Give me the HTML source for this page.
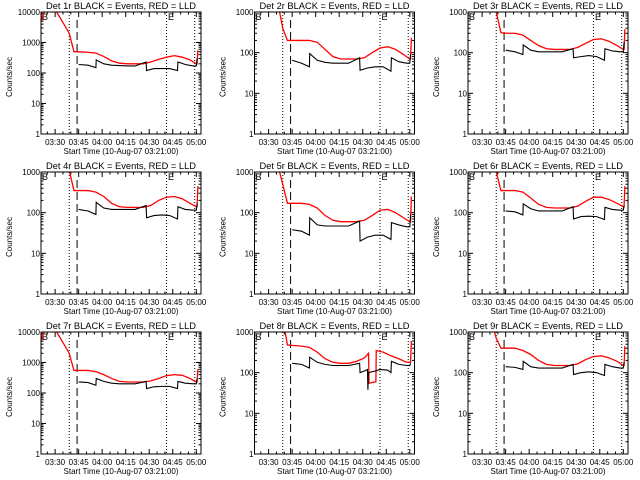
<!DOCTYPE html>
<html><head><meta charset="utf-8"><style>
html,body{margin:0;padding:0;background:#fff;}
svg{display:block;font-family:"Liberation Sans",sans-serif;}
</style></head><body>
<svg id="chart" width="640" height="480" viewBox="0 0 640 480" xmlns="http://www.w3.org/2000/svg"></svg>
<script>
const detLabels = ["1r","2r","3r","4r","5r","6r","7r","8r","9r"];
const yTopExp = [4,3,3,3,3,3,4,3,3];
const tickTimes = [9,24,39,54,69,84,99];
const tickLabels = ["03:30","03:45","04:00","04:15","04:30","04:45","05:00"];
const markerTimes = [18,23,80,98];
const redT = [0,2.5,5,10,14,18,21,23,30,35,40,45,50,55,60,65,70,75,80,85,90,95,99,99.5,100];
const blkT = [24,30,35,35.2,40,45,50,55,60,67,67.3,72,77,82,87,87.3,92,97,99,99.5];
const redT8 = [15,19.5,21,30,35,40,45,50,55,60,65,70,72.7,73,77.4,77.6,82,87,92,97,99,99.5,100];
const blkT8 = [24,30,35,35.2,40,45,50,60,67,67.3,70,72,72.3,72.6,77,80,85,87,87.3,92,97,99,99.5];
const red1 = [4700,12000,15000,10000,4500,2000,500,500,480,450,350,250,210,200,200,200,230,280,330,370,330,270,200,200,550];
const red2 = [5000,20000,20000,8000,2500,400,200,200,200,200,180,120,80,70,70,70,75,100,130,140,120,90,70,70,230];
const red3 = [5000,20000,20000,8000,3000,1000,310,300,300,270,200,150,125,120,120,120,135,170,210,220,190,150,120,120,380];
const red4 = [5000,20000,20000,8000,3000,1100,350,350,350,320,250,170,140,135,135,135,150,200,240,250,220,170,140,140,450];
const red5 = [5000,20000,20000,8000,2000,500,170,170,170,160,130,85,65,60,60,60,65,85,115,120,100,75,60,60,250];
const red6 = [5000,20000,20000,8000,3000,1000,350,350,350,320,230,160,135,130,130,130,145,190,240,240,210,170,140,140,450];
const red7 = [5000,12000,15000,10000,4500,2000,550,550,550,500,400,300,240,230,230,230,250,300,370,400,380,300,230,230,600];
const red8 = [3000,1000,480,450,420,320,220,180,170,170,190,230,300,55,60,350,320,260,220,180,180,180,600];
const red9 = [5000,20000,20000,8000,2500,700,400,400,400,350,280,200,160,150,150,150,165,210,250,260,230,190,150,150,450];
const blk1 = [190,180,150,270,200,180,175,170,170,230,120,140,140,140,120,230,190,170,170,300];
const blk2 = [65,55,45,95,65,58,55,55,55,75,37,42,45,45,35,75,60,55,55,90];
const blk3 = [115,105,90,155,115,105,105,105,105,125,75,80,85,80,65,125,110,105,105,180];
const blk4 = [120,110,90,180,130,120,120,120,120,150,75,85,88,85,70,140,120,115,115,170];
const blk5 = [38,35,28,75,50,47,47,47,47,62,20,25,28,28,22,57,50,45,45,90];
const blk6 = [110,105,88,165,125,110,110,110,110,140,70,80,82,80,68,135,120,115,115,150];
const blk7 = [230,220,180,300,240,210,200,200,200,240,140,160,165,165,140,240,210,200,200,300];
const blk8 = [170,160,130,240,180,160,150,150,170,100,110,120,38,100,110,120,115,100,190,160,150,150,170];
const blk9 = [140,135,120,190,140,130,130,130,130,160,90,100,105,100,85,160,140,130,130,180];
const redVals = [red1,red2,red3,red4,red5,red6,red7,red8,red9];
const blkVals = [blk1,blk2,blk3,blk4,blk5,blk6,blk7,blk8,blk9];

const NS = "http://www.w3.org/2000/svg";
const svg = document.getElementById("chart");
function mk(tag, attrs, parent){const e=document.createElementNS(NS,tag);for(const k in attrs)e.setAttribute(k,attrs[k]);(parent||svg).appendChild(e);return e;}
const colX=[41,254.5,468], rowY=[12,172,332], W=160, H=122, TMAX=102;

for(let p=0;p<9;p++){
  const x0=colX[p%3], y0=rowY[Math.floor(p/3)], top=yTopExp[p];
  const xs=t=>x0+t/TMAX*W;
  const ys=v=>y0+H-(Math.log10(Math.max(v,1e-3))/top)*H;
  const g=mk("g",{});
  
  
  const cp=mk("clipPath",{id:"c"+p},g); mk("rect",{x:x0,y:y0,width:W,height:H},cp);
  const title=mk("text",{x:x0+W/2,y:y0-3,"text-anchor":"middle","font-size":"9.5",textLength:"150",lengthAdjust:"spacingAndGlyphs"},g);
  title.textContent="Det "+detLabels[p]+" BLACK = Events, RED = LLD";
  
  
  // y ticks
  for(let e=0;e<=top;e++){
    const y=ys(Math.pow(10,e));
    mk("line",{x1:x0,x2:x0+5,y1:y,y2:y,stroke:"#000"},g);
    mk("line",{x1:x0+W,x2:x0+W-5,y1:y,y2:y,stroke:"#000"},g);
    const lb=mk("text",{x:x0-1,y:y+3,"text-anchor":"end","font-size":"8"},g);
    lb.textContent=String(Math.pow(10,e));
    
    
    if(e<top) for(let m=2;m<=9;m++){const ym=ys(m*Math.pow(10,e));
      mk("line",{x1:x0,x2:x0+2.5,y1:ym,y2:ym,stroke:"#000"},g);
      mk("line",{x1:x0+W,x2:x0+W-2.5,y1:ym,y2:ym,stroke:"#000"},g);}
  }
  // x ticks
  for(let t=4;t<TMAX;t+=5){const x=xs(t);const major=tickTimes.includes(t);const L=major?5:2.5;
    mk("line",{x1:x,x2:x,y1:y0+H,y2:y0+H-L,stroke:"#000"},g);
    mk("line",{x1:x,x2:x,y1:y0,y2:y0+L,stroke:"#000"},g);}
  tickTimes.forEach((t,i)=>{const lb=mk("text",{x:xs(t),y:y0+H+11,"text-anchor":"middle","font-size":"8"},g);
    lb.textContent=tickLabels[i];
    
    });
  const xt=mk("text",{x:x0+W/2,y:y0+H+20,"text-anchor":"middle","font-size":"8.5",textLength:"115",lengthAdjust:"spacingAndGlyphs"},g);
  xt.textContent="Start Time (10-Aug-07 03:21:00)";
  
  
  const yt=mk("text",{x:0,y:0,"text-anchor":"middle","font-size":"8",transform:`translate(${x0-29},${y0+H/2+4}) rotate(-90)`},g);
  yt.textContent="Counts/sec";
  
  
  // marker lines
  markerTimes.forEach((t,i)=>{const x=xs(t);
    const ln=mk("line",{x1:x,x2:x,y1:i==1?y0+8:y0,y2:y0+H,stroke:"#000","stroke-width":"1","stroke-dasharray":i==1?"8,4":"1,2"},g);
    
    });
  // B / E markers
  const bm=mk("text",{x:x0+1,y:y0+8,"font-size":"9"},g); bm.textContent="B";
  
  
  const em=mk("text",{x:x0+127,y:y0+8,"font-size":"9"},g); em.textContent="E";
  
  
  // series
  const rT=p==7?redT8:redT, bT=p==7?blkT8:blkT;
  const rl=mk("polyline",{points:rT.map((t,i)=>xs(t)+","+ys(redVals[p][i])).join(" "),fill:"none",stroke:"#ff0000","stroke-width":"1.3","clip-path":`url(#c${p})`},g);
  
  
  const bl=mk("polyline",{points:bT.map((t,i)=>xs(t)+","+ys(blkVals[p][i])).join(" "),fill:"none",stroke:"#000","stroke-width":"1.1","clip-path":`url(#c${p})`},g);
  
  
  const fr=mk("rect",{x:x0,y:y0,width:W,height:H,fill:"none",stroke:"#000","stroke-width":"1"},g);
  
  
}
</script>
</body></html>
